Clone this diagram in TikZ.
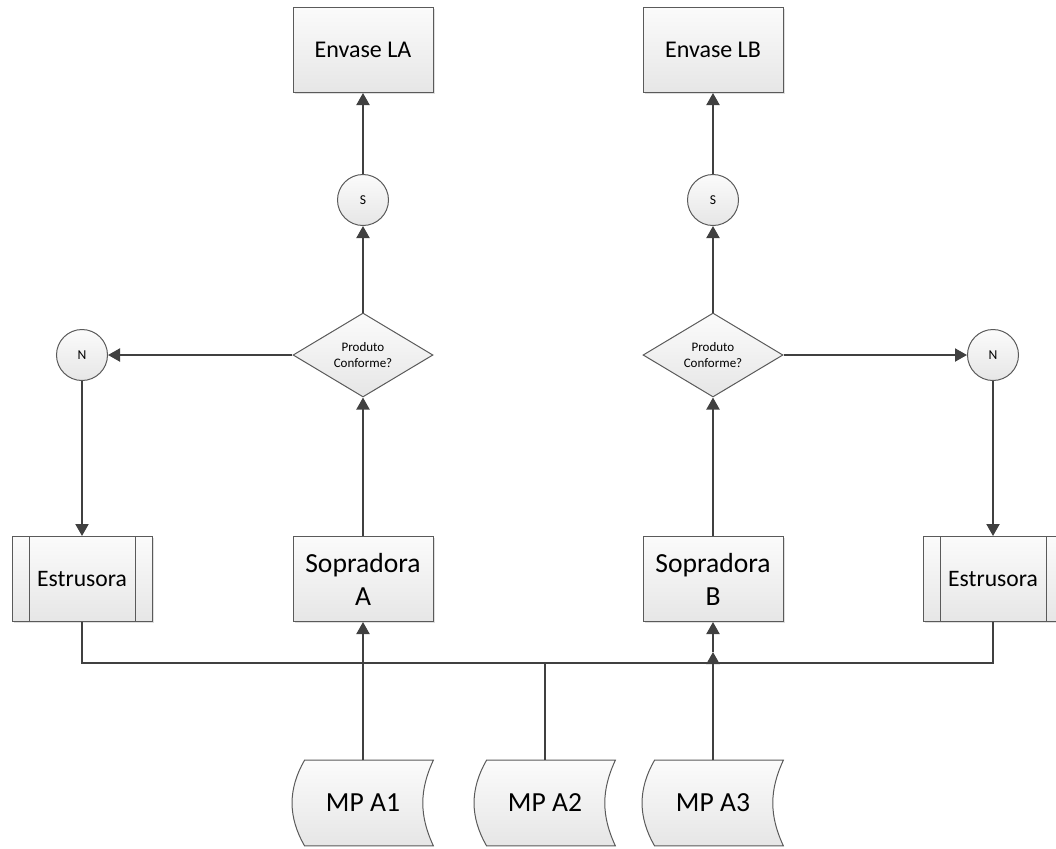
\documentclass[tikz,border=0pt]{standalone}
\usepackage{fontspec}
\setmainfont{Carlito}
\usepackage{tikz}
\usetikzlibrary{arrows.meta,positioning,shapes.geometric,backgrounds,shadows}
\definecolor{Ink}{HTML}{404040}
\definecolor{Frame}{HTML}{5A5A5A}
\definecolor{BoxTop}{HTML}{FBFBFB}
\definecolor{BoxBottom}{HTML}{E6E6E6}
\newcommand{\datashape}[1]{%
  \draw[draw=Frame,line width=0.5pt,top color=BoxTop,bottom color=BoxBottom]
    ([xshift=6pt]#1.north west) -- (#1.north east)
    to[bend right=25] (#1.south east)
    -- ([xshift=6pt]#1.south west)
    to[bend left=30] ([xshift=6pt]#1.north west) -- cycle;}

\begin{document}
\begin{tikzpicture}[x=0.5pt,y=-0.5pt,
  proc/.style={draw=Frame,line width=0.5pt,top color=BoxTop,bottom color=BoxBottom,minimum width=70pt,minimum height=42.5pt,inner sep=1pt,align=center,drop shadow={shadow xshift=0.8pt,shadow yshift=-0.8pt,opacity=0.25}},
  subproc/.style={proc,path picture={
      \draw[draw=Frame,line width=0.5pt] ([xshift=8.5pt]path picture bounding box.north west) -- ([xshift=8.5pt]path picture bounding box.south west);
      \draw[draw=Frame,line width=0.5pt] ([xshift=-8.5pt]path picture bounding box.north east) -- ([xshift=-8.5pt]path picture bounding box.south east);}},
  decision/.style={diamond,draw=Frame,line width=0.5pt,top color=BoxTop,bottom color=BoxBottom,minimum width=70pt,minimum height=42pt,inner sep=0pt,aspect=1.67,align=center,font=\fontsize{6.5}{8.3}\selectfont},
  conn/.style={circle,draw=Frame,line width=0.5pt,top color=BoxTop,bottom color=BoxBottom,minimum size=25.5pt,inner sep=0pt,font=\fontsize{6.8}{8}\selectfont},
  data/.style={rectangle,minimum width=70pt,minimum height=42.5pt,inner sep=0pt,font=\fontsize{13.8}{16}\selectfont},
  flow/.style={-{Triangle[length=6pt,width=6.5pt]},line width=1pt,draw=Ink},
  bus/.style={line width=1pt,draw=Ink}
]
  \useasboundingbox (0,0) rectangle (1056,848);
  % saidas
  \node[proc,font=\fontsize{12}{14}\selectfont] (envLA) at (363,50) {Envase LA};
  \node[proc,font=\fontsize{12}{14}\selectfont] (envLB) at (713,50) {Envase LB};
  \node[conn] (sA) at (363,200) {S};
  \node[conn] (sB) at (713,200) {S};
  \node[decision] (decA) at (363,355) {Produto\\Conforme?};
  \node[decision] (decB) at (713,355) {Produto\\Conforme?};
  \node[conn] (nL) at (82,355) {N};
  \node[conn] (nR) at (993,355) {N};
  % maquinas
  \node[subproc,font=\fontsize{11.8}{14}\selectfont] (estL) at (82,579) {Estrusora};
  \node[subproc,font=\fontsize{11.8}{14}\selectfont] (estR) at (993,579) {Estrusora};
  \node[proc,font=\fontsize{13.8}{16.5}\selectfont] (sopA) at (363,579) {Sopradora\\A};
  \node[proc,font=\fontsize{13.8}{16.5}\selectfont] (sopB) at (713,579) {Sopradora\\B};
  % materias primas
  \node[data] (mp1) at (363,803) {MP A1};
  \node[data] (mp2) at (545,803) {MP A2};
  \node[data] (mp3) at (713,803) {MP A3};
  \begin{scope}[on background layer]
    \datashape{mp1}
    \datashape{mp2}
    \datashape{mp3}
  \end{scope}
  \coordinate (busL) at (82,663);
  \coordinate (busM) at (545,663);
  \coordinate (busR) at (993,663);
  \coordinate (jB) at (713,652);
  % ligacoes
  \draw[flow] (sopA) -- (decA);
  \draw[flow] (decA) -- (sA);
  \draw[flow] (sA) -- (envLA);
  \draw[flow] (decA) -- (nL);
  \draw[flow] (nL) -- (estL);
  \draw[flow] (sopB) -- (decB);
  \draw[flow] (decB) -- (sB);
  \draw[flow] (sB) -- (envLB);
  \draw[flow] (decB) -- (nR);
  \draw[flow] (nR) -- (estR);
  \draw[bus] (estL) -- (busL) -- (busR) -- (estR);
  \draw[flow] (mp1) -- (sopA);
  \draw[bus] (mp2) -- (busM);
  \draw[flow] (mp3) -- (jB);
  \draw[flow] (jB) -- (sopB);
\end{tikzpicture}
\end{document}
